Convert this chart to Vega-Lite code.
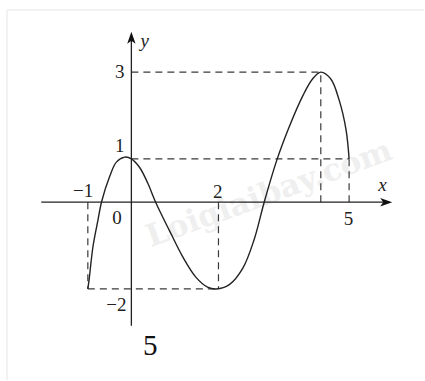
{
  "$schema": "https://vega.github.io/schema/vega-lite/v6.json",
  "width": 425,
  "height": 381,
  "autosize": {"type": "fit", "contains": "padding"},
  "padding": 0,
  "background": "white",
  "config": {"view": {"stroke": null}},
  "datasets": {
    "curve": [
      {"x": -1.0, "y": -2.0},
      {"x": -0.97, "y": -1.78},
      {"x": -0.88, "y": -1.01},
      {"x": -0.765, "y": -0.4},
      {"x": -0.687, "y": 0.0},
      {"x": -0.497, "y": 0.6},
      {"x": -0.34, "y": 0.93},
      {"x": -0.15, "y": 1.04},
      {"x": 0.0, "y": 1.0},
      {"x": 0.19, "y": 0.8},
      {"x": 0.38, "y": 0.43},
      {"x": 0.557, "y": 0.0},
      {"x": 0.877, "y": -0.66},
      {"x": 1.18, "y": -1.26},
      {"x": 1.49, "y": -1.74},
      {"x": 1.75, "y": -1.96},
      {"x": 1.95, "y": -2.0},
      {"x": 2.25, "y": -1.9},
      {"x": 2.56, "y": -1.52},
      {"x": 2.82, "y": -0.86},
      {"x": 3.05, "y": 0.0},
      {"x": 3.34, "y": 0.97},
      {"x": 3.63, "y": 1.75},
      {"x": 3.93, "y": 2.44},
      {"x": 4.16, "y": 2.84},
      {"x": 4.35, "y": 3.0},
      {"x": 4.58, "y": 2.84},
      {"x": 4.77, "y": 2.36},
      {"x": 4.93, "y": 1.67},
      {"x": 5.0, "y": 1.0}
    ],
    "dashes": [
      {"x": 0, "y": 3, "x2": 4.35, "y2": 3},
      {"x": 4.35, "y": 0, "x2": 4.35, "y2": 3},
      {"x": 0, "y": 1, "x2": 5, "y2": 1},
      {"x": 5, "y": 0, "x2": 5, "y2": 1},
      {"x": -1, "y": 0, "x2": -1, "y2": -2},
      {"x": -1, "y": -2, "x2": 2, "y2": -2},
      {"x": 2, "y": 0, "x2": 2, "y2": -2}
    ],
    "axes": [
      {"x": -2.07, "y": 0, "x2": 5.9, "y2": 0},
      {"x": 0, "y": -2.85, "x2": 0, "y2": 3.85}
    ],
    "frame": [
      {"x": -2.857, "y": 4.433, "x2": 6.72, "y2": 4.433},
      {"x": -2.857, "y": -4.1, "x2": -2.857, "y2": 4.433}
    ],
    "arrowX": [{"x": 5.99, "y": 0}],
    "arrowY": [{"x": 0, "y": 3.93}],
    "labels": [
      {"x": -1.109, "y": 0.253, "label": "−1"},
      {"x": -0.33, "y": -0.359, "label": "0"},
      {"x": 1.984, "y": 0.23, "label": "2"},
      {"x": 4.985, "y": -0.382, "label": "5"},
      {"x": -0.268, "y": 3.0, "label": "3"},
      {"x": -0.268, "y": 1.288, "label": "1"},
      {"x": -0.344, "y": -2.376, "label": "−2"}
    ],
    "italics": [
      {"x": 5.764, "y": 0.407, "label": "x"},
      {"x": 0.305, "y": 3.727, "label": "y"}
    ],
    "caption": [{"x": 0.435, "y": -3.313, "label": "5"}],
    "watermark": [{"x": 3.17, "y": 0.18, "label": "Loigiaibay.com"}]
  },
  "encoding": {
    "x": {"field": "x", "type": "quantitative", "axis": null, "scale": {"domain": [-3.017, 6.72], "nice": false, "zero": false}},
    "y": {"field": "y", "type": "quantitative", "axis": null, "scale": {"domain": [-4.1, 4.663], "nice": false, "zero": false}}
  },
  "layer": [
    {
      "data": {"name": "watermark"},
      "mark": {"type": "text", "angle": -20, "fontSize": 31, "fontWeight": "bold", "font": "DejaVu Serif", "color": "#efefef", "align": "center", "baseline": "middle"},
      "encoding": {"text": {"field": "label"}}
    },
    {
      "data": {"name": "frame"},
      "mark": {"type": "rule", "color": "#f2f2f2", "strokeWidth": 2},
      "encoding": {"x2": {"field": "x2"}, "y2": {"field": "y2"}}
    },
    {
      "data": {"name": "dashes"},
      "mark": {"type": "rule", "color": "#3a3a3a", "strokeWidth": 1.2, "strokeDash": [7, 5]},
      "encoding": {"x2": {"field": "x2"}, "y2": {"field": "y2"}}
    },
    {
      "data": {"name": "axes"},
      "mark": {"type": "rule", "color": "#222", "strokeWidth": 1.3},
      "encoding": {"x2": {"field": "x2"}, "y2": {"field": "y2"}}
    },
    {
      "data": {"name": "curve"},
      "mark": {"type": "line", "color": "#222", "strokeWidth": 1.4, "interpolate": "catmull-rom"},
      "encoding": {}
    },
    {
      "data": {"name": "arrowX"},
      "mark": {"type": "point", "filled": true, "color": "#111", "opacity": 1, "size": 144, "shape": "M0,0 L-2,-0.7 L-1.5,0 L-2,0.7 Z"},
      "encoding": {}
    },
    {
      "data": {"name": "arrowY"},
      "mark": {"type": "point", "filled": true, "color": "#111", "opacity": 1, "size": 144, "shape": "M0,0 L-0.7,2 L0,1.5 L0.7,2 Z"},
      "encoding": {}
    },
    {
      "data": {"name": "labels"},
      "mark": {"type": "text", "fontSize": 19, "font": "Liberation Serif", "color": "#222", "align": "center", "baseline": "middle"},
      "encoding": {"text": {"field": "label"}}
    },
    {
      "data": {"name": "italics"},
      "mark": {"type": "text", "fontSize": 19, "font": "Liberation Serif", "fontStyle": "italic", "color": "#222", "align": "center", "baseline": "middle"},
      "encoding": {"text": {"field": "label"}}
    },
    {
      "data": {"name": "caption"},
      "mark": {"type": "text", "fontSize": 29, "font": "Liberation Serif", "color": "#111", "align": "center", "baseline": "middle"},
      "encoding": {"text": {"field": "label"}}
    }
  ]
}
